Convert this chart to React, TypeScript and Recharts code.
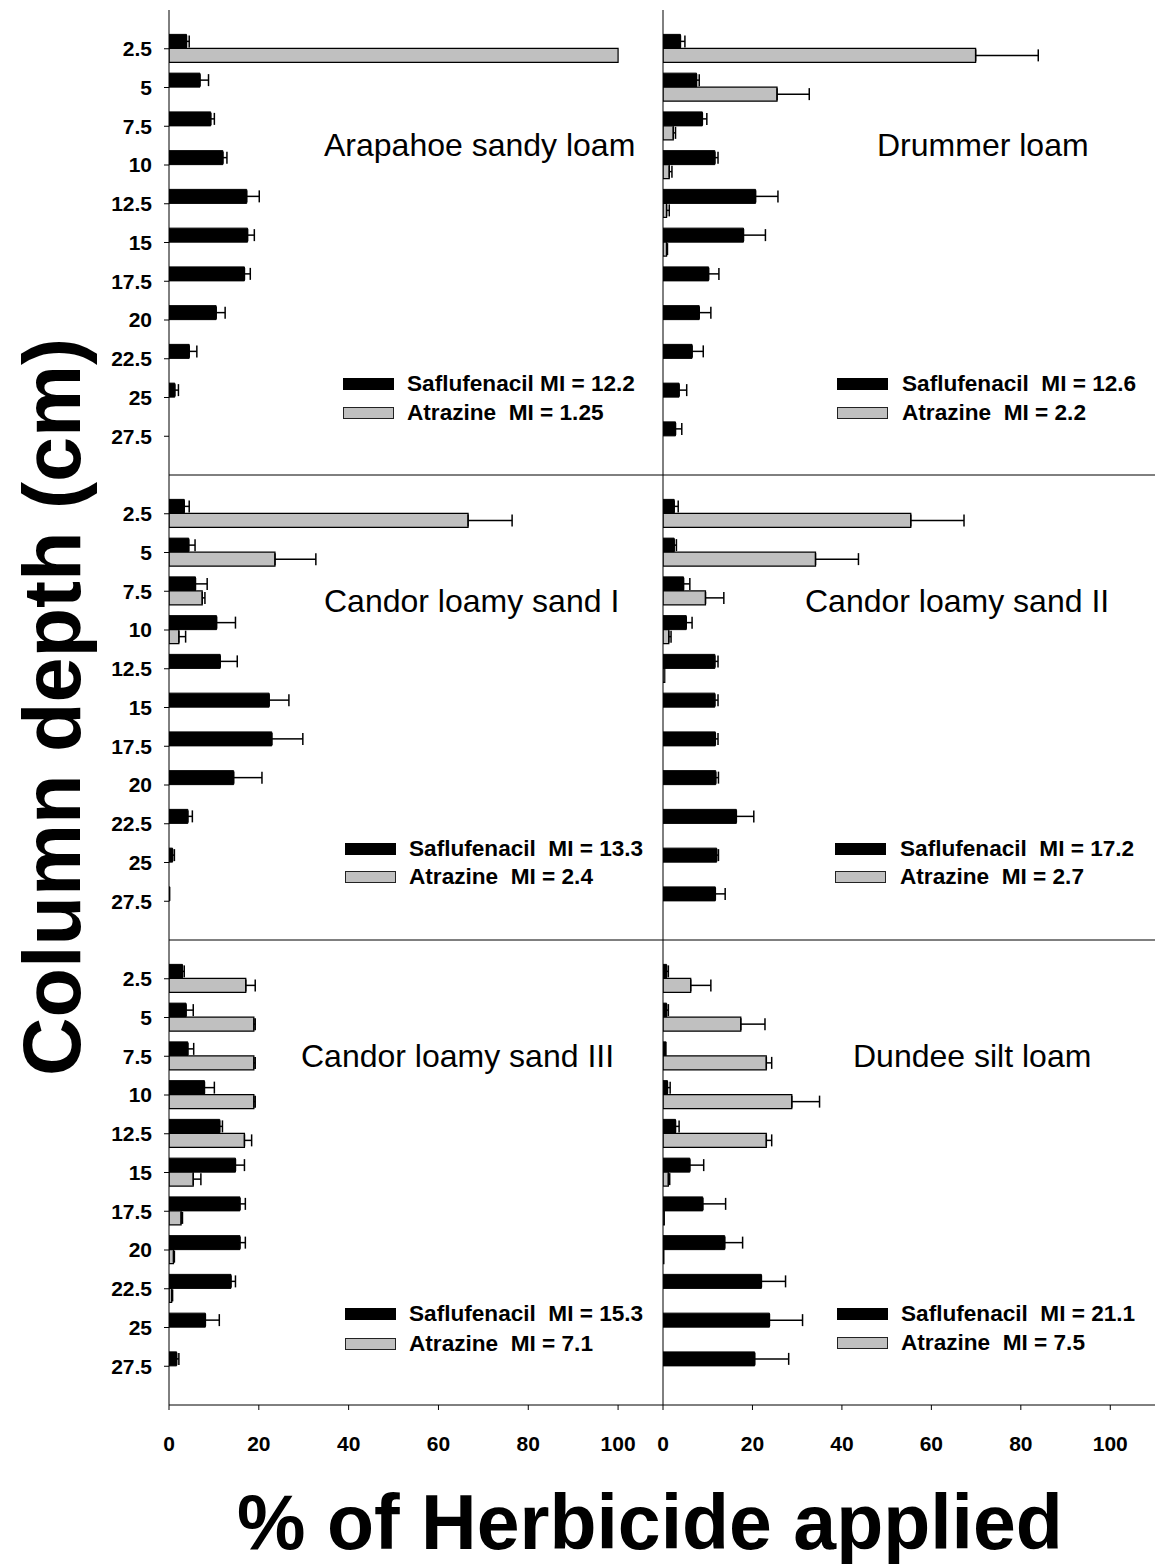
import React from 'react';
import { BarChart, Bar, XAxis, YAxis, ErrorBar } from 'recharts';

const depths = [2.5, 5, 7.5, 10, 12.5, 15, 17.5, 20, 22.5, 25, 27.5];
const xTicks = [0, 20, 40, 60, 80, 100];

const arapahoeSaf = [3.9, 6.9, 9.3, 12.0, 17.3, 17.5, 16.8, 10.5, 4.5, 1.3, 0];
const arapahoeSafErr = [0.6, 1.9, 0.8, 0.9, 2.8, 1.5, 1.3, 2.0, 1.7, 0.8, 0];
const arapahoeAtr = [100, 0, 0, 0, 0, 0, 0, 0, 0, 0, 0];
const arapahoeAtrErr = [0, 0, 0, 0, 0, 0, 0, 0, 0, 0, 0];

const drummerSaf = [3.9, 7.5, 8.8, 11.6, 20.7, 18.0, 10.2, 8.1, 6.5, 3.6, 2.8];
const drummerSafErr = [1.0, 0.6, 1.0, 0.7, 5.0, 4.9, 2.3, 2.6, 2.5, 1.7, 1.4];
const drummerAtr = [69.9, 25.5, 2.3, 1.4, 0.8, 0.8, 0, 0, 0, 0, 0];
const drummerAtrErr = [14.0, 7.2, 0.5, 0.6, 0.6, 0.2, 0, 0, 0, 0, 0];

const candor1Saf = [3.4, 4.4, 5.9, 10.6, 11.4, 22.3, 22.9, 14.4, 4.2, 0.8, 0.2];
const candor1SafErr = [1.1, 1.4, 2.6, 4.2, 3.8, 4.4, 6.9, 6.3, 1.0, 0.4, 0];
const candor1Atr = [66.6, 23.6, 7.4, 2.2, 0, 0, 0, 0, 0, 0, 0];
const candor1AtrErr = [9.8, 9.1, 0.6, 1.5, 0, 0, 0, 0, 0, 0, 0];

const candor2Saf = [2.5, 2.5, 4.6, 5.2, 11.6, 11.6, 11.7, 11.8, 16.4, 12.0, 11.7];
const candor2SafErr = [0.9, 0.5, 1.4, 1.3, 0.7, 0.7, 0.6, 0.6, 3.9, 0.4, 2.2];
const candor2Atr = [55.4, 34.1, 9.5, 1.3, 0.4, 0, 0, 0, 0, 0, 0];
const candor2AtrErr = [11.9, 9.6, 4.1, 0.5, 0, 0, 0, 0, 0, 0, 0];

const candor3Saf = [3.0, 3.8, 4.2, 7.9, 11.3, 14.8, 15.8, 15.8, 13.8, 8.1, 1.7];
const candor3SafErr = [0.4, 1.6, 1.3, 2.2, 0.6, 2.0, 1.2, 1.2, 1.0, 3.1, 0.5];
const candor3Atr = [17.1, 18.9, 18.9, 18.9, 16.8, 5.4, 2.7, 1.0, 0.6, 0, 0];
const candor3AtrErr = [2.1, 0.3, 0.3, 0.3, 1.6, 1.7, 0.3, 0.2, 0.2, 0, 0];

const dundeeSaf = [0.8, 0.8, 0.7, 1.0, 2.8, 6.0, 8.9, 13.8, 22.0, 23.8, 20.5];
const dundeeSafErr = [0.4, 0.4, 0, 0.6, 0.8, 3.1, 5.1, 4.0, 5.4, 7.4, 7.6];
const dundeeAtr = [6.2, 17.4, 23.1, 28.8, 23.1, 1.2, 0.3, 0.2, 0, 0, 0];
const dundeeAtrErr = [4.5, 5.4, 1.2, 6.2, 1.2, 0.3, 0, 0, 0, 0, 0];

const FONT = '"Liberation Sans", Arial, Helvetica, sans-serif';

function rows(saf: number[], safErr: number[], atr: number[], atrErr: number[]) {
  return depths.map((d, i) => ({
    depth: d,
    saf: saf[i],
    safErr: safErr[i] > 0 ? [0, safErr[i]] : null,
    atr: atr[i],
    atrErr: atrErr[i] > 0 ? [0, atrErr[i]] : null,
  }));
}

type PanelProps = {
  data: any[];
  left: boolean;
  top: number;
  bottomLabels: boolean;
  topBorder: boolean;
};

const PLOT_H = 465;
const MT = 5;

function Panel({ data, left, top, bottomLabels, topBorder }: PanelProps) {
  const yW = left ? 75 : 10;
  const plotW = left ? 494 : 492;
  const plotLeft = left ? 169 : 663;
  const xH = bottomLabels ? 64 : 10;
  const width = yW + plotW + (left ? 0 : 6);
  const height = MT + PLOT_H + xH;
  return (
    <div style={{ position: 'absolute', left: plotLeft - yW, top: top - MT }}>
      <BarChart
        width={width}
        height={height}
        data={data}
        layout="vertical"
        barGap={0}
        margin={{ top: MT, right: left ? 0 : 6, bottom: 0, left: 0 }}
      >
        <XAxis
          type="number"
          domain={[0, 110]}
          ticks={xTicks}
          allowDataOverflow
          height={xH}
          axisLine={{ stroke: '#000', strokeWidth: 1 }}
          tickLine={{ stroke: '#000', strokeWidth: 1 }}
          tickSize={5}
          tickMargin={26}
          tick={bottomLabels ? { fill: '#000', fontSize: 21, fontWeight: 'bold', fontFamily: FONT } : false}
        />
        {topBorder && (
          <XAxis
            xAxisId="top"
            orientation="top"
            type="number"
            domain={[0, 110]}
            height={0}
            tick={false}
            tickLine={false}
            axisLine={{ stroke: '#000', strokeWidth: 1 }}
          />
        )}
        <YAxis
          type="number"
          dataKey="depth"
          domain={[0, 30]}
          ticks={depths}
          width={yW}
          axisLine={{ stroke: '#000', strokeWidth: 1 }}
          tickLine={left ? { stroke: '#000', strokeWidth: 1 } : false}
          tickSize={5}
          tickMargin={12}
          interval={0}
          tick={left ? { fill: '#000', fontSize: 21, fontWeight: 'bold', fontFamily: FONT } : false}
        />
        <Bar dataKey="saf" fill="#000" stroke="#000" strokeWidth={1} barSize={14} isAnimationActive={false}>
          <ErrorBar dataKey="safErr" direction="x" width={6} stroke="#000" strokeWidth={1.5} isAnimationActive={false} />
        </Bar>
        <Bar dataKey="atr" fill="#c0c0c0" stroke="#000" strokeWidth={1.2} barSize={14} isAnimationActive={false}>
          <ErrorBar dataKey="atrErr" direction="x" width={6} stroke="#000" strokeWidth={1.5} isAnimationActive={false} />
        </Bar>
      </BarChart>
    </div>
  );
}

function TextAt({ x, yc, size, bold, children, center }: any) {
  return (
    <div
      style={{
        position: 'absolute',
        left: x,
        top: yc - 0.4885 * size,
        fontFamily: FONT,
        fontSize: size,
        lineHeight: 1,
        fontWeight: bold ? 'bold' : 'normal',
        whiteSpace: 'pre',
        color: '#000',
        transform: center ? 'translateX(-50%)' : undefined,
      }}
    >
      {children}
    </div>
  );
}

function LegendBlock({ x, y1, y2, textX, saf, atr }: any) {
  return (
    <>
      <div style={{ position: 'absolute', left: x, top: y1 - 6, width: 51, height: 12, background: '#000' }} />
      <div
        style={{
          position: 'absolute',
          left: x,
          top: y2 - 6,
          width: 49,
          height: 10,
          background: '#c0c0c0',
          border: '1px solid #222',
        }}
      />
      <TextAt x={textX} yc={y1} size={22.6} bold>
        {saf}
      </TextAt>
      <TextAt x={textX} yc={y2} size={22.6} bold>
        {atr}
      </TextAt>
    </>
  );
}

export default function App() {
  return (
    <div
      style={{
        position: 'absolute',
        left: 0,
        top: 0,
        width: 1155,
        height: 1564,
        overflow: 'hidden',
        background: '#fff',
      }}
    >
      <Panel data={rows(arapahoeSaf, arapahoeSafErr, arapahoeAtr, arapahoeAtrErr)} left top={10} bottomLabels={false} topBorder />
      <Panel data={rows(drummerSaf, drummerSafErr, drummerAtr, drummerAtrErr)} left={false} top={10} bottomLabels={false} topBorder />
      <Panel data={rows(candor1Saf, candor1SafErr, candor1Atr, candor1AtrErr)} left top={475} bottomLabels={false} topBorder={false} />
      <Panel data={rows(candor2Saf, candor2SafErr, candor2Atr, candor2AtrErr)} left={false} top={475} bottomLabels={false} topBorder={false} />
      <Panel data={rows(candor3Saf, candor3SafErr, candor3Atr, candor3AtrErr)} left top={940} bottomLabels topBorder={false} />
      <Panel data={rows(dundeeSaf, dundeeSafErr, dundeeAtr, dundeeAtrErr)} left={false} top={940} bottomLabels topBorder={false} />

      <TextAt x={324} yc={145} size={32}>Arapahoe sandy loam</TextAt>
      <TextAt x={877} yc={145} size={32}>Drummer loam</TextAt>
      <TextAt x={324} yc={601} size={32}>Candor loamy sand I</TextAt>
      <TextAt x={805} yc={601} size={32}>Candor loamy sand II</TextAt>
      <TextAt x={301} yc={1056} size={32}>Candor loamy sand III</TextAt>
      <TextAt x={853} yc={1056} size={32}>Dundee silt loam</TextAt>

      <LegendBlock x={343} y1={384} y2={413} textX={407} saf="Saflufenacil MI = 12.2" atr="Atrazine  MI = 1.25" />
      <LegendBlock x={837} y1={384} y2={413} textX={902} saf="Saflufenacil  MI = 12.6" atr="Atrazine  MI = 2.2" />
      <LegendBlock x={345} y1={849} y2={877} textX={409} saf="Saflufenacil  MI = 13.3" atr="Atrazine  MI = 2.4" />
      <LegendBlock x={835} y1={849} y2={877} textX={900} saf="Saflufenacil  MI = 17.2" atr="Atrazine  MI = 2.7" />
      <LegendBlock x={345} y1={1314} y2={1344} textX={409} saf="Saflufenacil  MI = 15.3" atr="Atrazine  MI = 7.1" />
      <LegendBlock x={837} y1={1314} y2={1343} textX={901} saf="Saflufenacil  MI = 21.1" atr="Atrazine  MI = 7.5" />

      <TextAt x={650} yc={1522} size={77} bold center>% of Herbicide applied</TextAt>
      <div
        style={{
          position: 'absolute',
          left: 52,
          top: 707,
          fontFamily: FONT,
          fontSize: 81,
          lineHeight: 1,
          fontWeight: 'bold',
          whiteSpace: 'pre',
          transform: 'translate(-50%, -50%) rotate(-90deg)',
        }}
      >
        Column depth (cm)
      </div>
    </div>
  );
}
